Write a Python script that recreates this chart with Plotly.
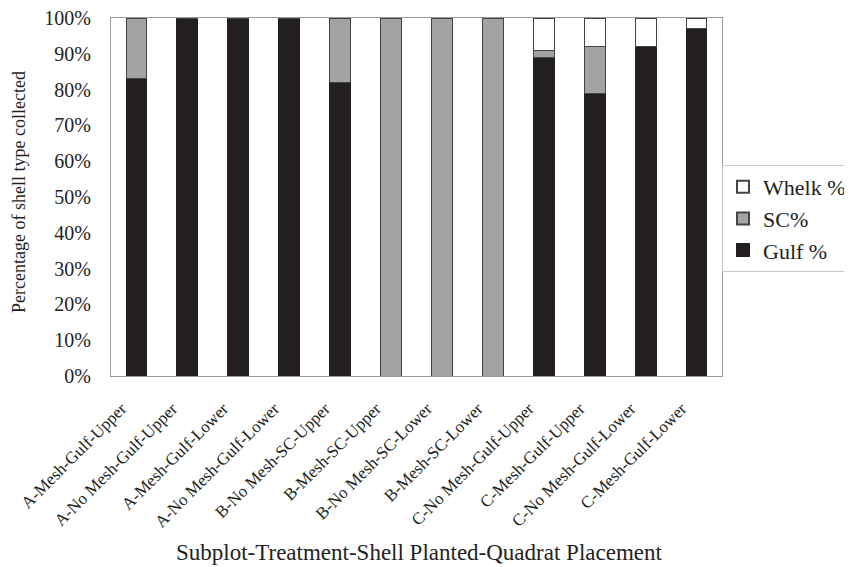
import plotly.graph_objects as go

categories = ["A-Mesh-Gulf-Upper", "A-No Mesh-Gulf-Upper", "A-Mesh-Gulf-Lower",
              "A-No Mesh-Gulf-Lower", "B-No Mesh-SC-Upper", "B-Mesh-SC-Upper",
              "B-No Mesh-SC-Lower", "B-Mesh-SC-Lower", "C-No Mesh-Gulf-Upper",
              "C-Mesh-Gulf-Upper", "C-No Mesh-Gulf-Lower", "C-Mesh-Gulf-Lower"]
gulf = [83, 100, 100, 100, 82, 0, 0, 0, 89, 79, 92, 97]
sc = [17, 0, 0, 0, 18, 100, 100, 100, 2, 13, 0, 0]
whelk = [0, 0, 0, 0, 0, 0, 0, 0, 9, 8, 8, 3]
y_ticks = [0, 10, 20, 30, 40, 50, 60, 70, 80, 90, 100]

font = "Liberation Serif"
ink = "#231f20"
fig = go.Figure()
fig.add_bar(x=categories, y=gulf, name="Gulf %", marker=dict(color=ink, line=dict(color=ink, width=1)))
fig.add_bar(x=categories, y=sc, name="SC%", marker=dict(color="#a3a3a5", line=dict(color="#444444", width=1)))
fig.add_bar(x=categories, y=whelk, name="Whelk %", marker=dict(color="#ffffff", line=dict(color="#444444", width=1)))

pad = "\u00a0" * 5
fig.update_layout(
    barmode="stack", bargap=0.59,
    width=844, height=559,
    margin=dict(l=103, r=128, t=10, b=191),
    paper_bgcolor="white", plot_bgcolor="white",
    font=dict(family=font, color=ink),
    showlegend=True,
    legend=dict(traceorder="reversed", xref="container", yref="container",
                x=714 / 844, xanchor="left", y=1 - 157 / 559, yanchor="top",
                bordercolor="#c8c8c8", borderwidth=1, font=dict(size=22, family=font, color=ink),
                itemsizing="constant", tracegroupgap=4),
    xaxis=dict(tickangle=-45, tickfont=dict(size=17, family=font, color=ink), showline=True,
               tickvals=categories, ticktext=[c + pad for c in categories],
               linecolor="#9a9a9a", mirror=True, ticks="", automargin=False),
    yaxis=dict(range=[0, 100], tickvals=y_ticks, ticktext=[f"{v}%" for v in y_ticks],
               tickfont=dict(size=20, family=font, color=ink), showline=True, linecolor="#9a9a9a",
               mirror=True, showgrid=False, ticks="", automargin=False, ticklabelstandoff=15,
               ticklabeloverflow="allow"),
    annotations=[
        dict(text="Subplot-Treatment-Shell Planted-Quadrat Placement", xref="paper", yref="paper",
             x=0.504, y=0, xanchor="center", yanchor="middle", yshift=-176, showarrow=False,
             font=dict(size=23, family=font, color=ink)),
        dict(text="Percentage of shell type collected", xref="paper", yref="paper", textangle=-90,
             x=0, y=0.5, xanchor="center", yanchor="middle", xshift=-92, yshift=5, showarrow=False,
             font=dict(size=18, family=font, color=ink)),
    ],
)
fig.write_html("out.html")
